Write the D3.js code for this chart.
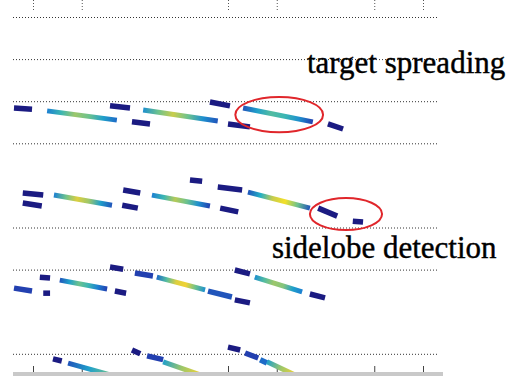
<!DOCTYPE html>
<html>
<head>
<meta charset="utf-8">
<script src="https://cdn.jsdelivr.net/npm/d3@7/dist/d3.min.js"></script>
<style>
  body { margin: 0; background: #fff; }
</style>
</head>
<body>
<div id="chart"></div>
<script>
// axis ticks (range cell on x, scan index on y)
const xTicks = [0, 10, 40, 50, 70, 80];
const yTicks = [0, 10, 20, 30, 50, 60, 80];

// short weak returns: [x0, y0, x1, y1, level]
const sidelobes = [
    [-3.9, 21.6, -0.2, 21.9, 0], [15.8, 21.1, 19.9, 21.6, 0], [20.3, 24.9, 24.0, 25.4, 0],
    [36.3, 20.2, 40.4, 21.1, 0], [40.0, 25.4, 44.5, 26.1, 0], [60.5, 25.4, 63.6, 26.6, 0],

    [-2.1, 41.8, 2.1, 42.3, 0], [-2.1, 44.2, 1.8, 44.9, 0], [18.5, 41.1, 22.0, 41.8, 0],
    [18.3, 44.7, 21.5, 45.4, 0], [32.2, 38.7, 34.7, 39.0, 0], [37.9, 40.4, 42.9, 41.1, 0],
    [38.4, 45.4, 42.1, 46.3, 0], [58.5, 45.4, 62.4, 47.3, 0], [65.6, 48.5, 67.7, 48.7, 0],

    [-3.9, 64.4, -0.2, 65.1, 0.15], [1.4, 61.8, 3.5, 62.0, 0], [2.1, 65.6, 3.5, 65.6, 0],
    [15.8, 59.4, 18.5, 59.9, 0], [16.8, 65.1, 19.1, 65.6, 0], [20.9, 60.8, 24.6, 61.5, 0.15],
    [35.9, 65.1, 40.8, 66.5, 0.2], [41.4, 67.2, 44.5, 67.9, 0], [41.4, 60.1, 44.5, 61.0, 0],
    [56.8, 65.8, 59.9, 66.7, 0],

    [4.1, 81.2, 5.9, 81.7, 0], [20.3, 79.1, 22.0, 80.0, 0], [23.4, 80.5, 26.7, 81.4, 0.15],
    [40.0, 78.4, 42.5, 79.1, 0], [43.5, 79.8, 46.2, 81.0, 0.15], [46.6, 81.4, 48.0, 82.2, 0.25]
];

// target tracks: [x0, y0, x1, y1]
const tracks = [
    [2.9, 22.3, 17.2, 24.5], [22.6, 22.1, 37.9, 24.7], [43.1, 21.6, 57.4, 24.9],
    [4.3, 42.3, 16.2, 44.7], [24.4, 42.3, 36.3, 44.9], [44.1, 41.6, 56.8, 45.4],
    [5.5, 62.5, 15.2, 64.6], [25.4, 61.8, 35.3, 64.8], [45.5, 61.8, 55.2, 65.3],
    [7.2, 82.2, 15.8, 85.0], [26.7, 81.9, 34.3, 85.0], [48.0, 81.9, 53.7, 85.0]
];

// colour level along each track, start to end
const trackLevels = [
    [0.3, 0.5, 0.7, 0.6, 0.4, 0.25], [0.35, 0.6, 0.8, 0.6, 0.35, 0.2], [0.2, 0.4, 0.55, 0.5, 0.35, 0.15],
    [0.3, 0.6, 0.85, 0.7, 0.4, 0.2], [0.3, 0.5, 0.75, 0.6, 0.35, 0.15], [0.2, 0.45, 0.8, 0.95, 0.6, 0.2],
    [0.2, 0.4, 0.6, 0.5, 0.3, 0.15], [0.25, 0.55, 0.85, 0.9, 0.6, 0.35], [0.35, 0.55, 0.7, 0.65, 0.4, 0.3],
    [0.2, 0.4, 0.6], [0.4, 0.7, 0.9], [0.4, 0.7, 0.9]
];

// red rings: [cx, cy, rx, ry]
const rings = [[50.5, 23.2, 9.0, 4.2], [64.2, 46.8, 7.4, 3.8]];

const notes = ['target spreading', 'sidelobe detection'];
const notePos = [[56.2, 13.3], [49.0, 57.2]];

const width = 511;
const height = 376;
const plot = { left: 13, right: 437, bottom: 372 };

const svg = d3.select('#chart').append('svg')
    .attr('width', width)
    .attr('height', height)
    .style('display', 'block');

svg.append('rect').attr('width', width).attr('height', height).attr('fill', '#fff');

const xScale = d3.scaleLinear().domain([0, 80]).range([33, 423]);
const yScale = d3.scaleLinear().domain([0, 80]).range([17, 353.8]);

const cmap = d3.scaleLinear()
    .domain([0, 0.15, 0.3, 0.45, 0.6, 0.75, 0.9, 1])
    .range(['#1b1b82', '#2340b0', '#1c80d2', '#22b0c6', '#6cc28e', '#b6ca58', '#f0d233', '#f6ef1c'])
    .interpolate(d3.interpolateRgb);

// grid
const yGrid = svg.append('g')
    .attr('transform', `translate(${plot.left}, 0)`)
    .call(d3.axisRight(yScale).tickValues(yTicks).tickSize(plot.right - plot.left).tickFormat(''));
yGrid.select('.domain').remove();
yGrid.selectAll('line').attr('stroke', '#333').attr('stroke-dasharray', '1,2');

const xTop = svg.append('g')
    .call(d3.axisBottom(xScale).tickValues(xTicks).tickSize(12).tickFormat(''));
xTop.select('.domain').remove();
xTop.selectAll('line').attr('stroke', '#555').attr('stroke-dasharray', '1,2');

// bottom strip and ticks
svg.append('rect')
    .attr('x', plot.left).attr('y', plot.bottom)
    .attr('width', 443 - plot.left).attr('height', height - plot.bottom)
    .attr('fill', '#c9c9c9');

const xBottom = svg.append('g')
    .attr('transform', `translate(0, ${plot.bottom})`)
    .call(d3.axisTop(xScale).tickValues(xTicks).tickSize(6).tickFormat(''));
xBottom.select('.domain').remove();
xBottom.selectAll('line').attr('stroke', '#444');

const defs = svg.append('defs');
defs.append('clipPath').attr('id', 'plot-clip')
    .append('rect')
    .attr('x', plot.left).attr('y', 0)
    .attr('width', plot.right - plot.left).attr('height', plot.bottom);

tracks.forEach((t, i) => {
    const grad = defs.append('linearGradient')
        .attr('id', `trk${i}`)
        .attr('gradientUnits', 'userSpaceOnUse')
        .attr('x1', xScale(t[0])).attr('y1', yScale(t[1]))
        .attr('x2', xScale(t[2])).attr('y2', yScale(t[3]));
    const lv = trackLevels[i];
    lv.forEach((v, k) => {
        grad.append('stop')
            .attr('offset', k / (lv.length - 1))
            .attr('stop-color', cmap(v));
    });
});

const marks = svg.append('g').attr('clip-path', 'url(#plot-clip)');

marks.selectAll('line.lobe')
    .data(sidelobes)
    .enter()
    .append('line')
    .attr('class', 'lobe')
    .attr('x1', d => xScale(d[0])).attr('y1', d => yScale(d[1]))
    .attr('x2', d => xScale(d[2])).attr('y2', d => yScale(d[3]))
    .attr('stroke', d => cmap(d[4]))
    .attr('stroke-width', 5.5);

marks.selectAll('line.track')
    .data(tracks)
    .enter()
    .append('line')
    .attr('class', 'track')
    .attr('x1', d => xScale(d[0])).attr('y1', d => yScale(d[1]))
    .attr('x2', d => xScale(d[2])).attr('y2', d => yScale(d[3]))
    .attr('stroke', (d, i) => `url(#trk${i})`)
    .attr('stroke-width', 5);

svg.selectAll('ellipse')
    .data(rings)
    .enter()
    .append('ellipse')
    .attr('cx', d => xScale(d[0])).attr('cy', d => yScale(d[1]))
    .attr('rx', d => xScale(d[2]) - xScale(0))
    .attr('ry', d => yScale(d[3]) - yScale(0))
    .attr('fill', 'none')
    .attr('stroke', '#e0262b')
    .attr('stroke-width', 2);

svg.selectAll('text.note')
    .data(notes)
    .enter()
    .append('text')
    .attr('class', 'note')
    .attr('x', (d, i) => xScale(notePos[i][0]))
    .attr('y', (d, i) => yScale(notePos[i][1]))
    .text(d => d)
    .style('font-family', '"Liberation Serif", "Times New Roman", serif')
    .style('font-size', '31px')
    .style('fill', '#000')
    .style('stroke', '#000')
    .style('stroke-width', 0.4);
</script>
</body>
</html>
